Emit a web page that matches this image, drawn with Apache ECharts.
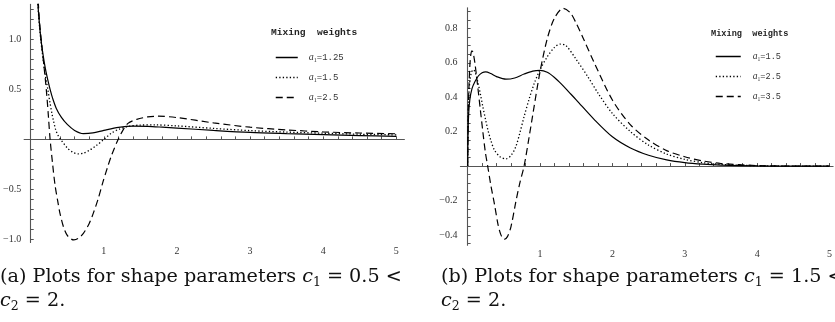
<!DOCTYPE html>
<html>
<head>
<meta charset="utf-8">
<script src="https://cdn.jsdelivr.net/npm/echarts@6/dist/echarts.min.js"></script>
<style>
html,body{margin:0;padding:0;background:#fff;}
#chart{width:835px;height:322px;}
</style>
</head>
<body>
<div id="chart"></div>
<script>
// ---------- DATA ----------
// Panel (a): c1 = 0.5 < c2 = 2
const leftNames = ['1.25', '1.5', '2.5'];
const leftSolid = [[0.085,1.6],[0.1,1.34],[0.12,1.15],[0.14,1.0],[0.17,0.84],[0.2,0.71],[0.235,0.59],[0.265,0.5],[0.3,0.41],[0.35,0.31],[0.42,0.22],[0.5,0.15],[0.6,0.09],[0.72,0.058],[0.85,0.065],[1.0,0.09],[1.2,0.12],[1.4,0.133],[1.6,0.13],[1.8,0.122],[2.0,0.113],[2.5,0.09],[3.0,0.07],[3.5,0.058],[4.0,0.048],[4.5,0.038],[5.0,0.03]];
const leftDotted = [[0.085,1.6],[0.1,1.33],[0.12,1.13],[0.14,0.98],[0.17,0.8],[0.2,0.64],[0.234,0.5],[0.26,0.38],[0.29,0.26],[0.31,0.19],[0.34,0.1],[0.37,0.045],[0.41,0.0],[0.5,-0.085],[0.58,-0.13],[0.65,-0.145],[0.72,-0.138],[0.8,-0.11],[0.9,-0.06],[1.0,0.0],[1.1,0.06],[1.2,0.1],[1.35,0.132],[1.5,0.143],[1.7,0.145],[2.0,0.135],[2.5,0.11],[3.0,0.088],[3.5,0.073],[4.0,0.062],[4.5,0.052],[5.0,0.045]];
const leftDashed = [[0.09,1.6],[0.105,1.35],[0.12,1.18],[0.15,0.95],[0.18,0.74],[0.2,0.6],[0.22,0.44],[0.24,0.25],[0.265,0.0],[0.3,-0.25],[0.333,-0.46],[0.37,-0.62],[0.4,-0.74],[0.45,-0.88],[0.5,-0.96],[0.55,-0.995],[0.59,-1.005],[0.65,-0.99],[0.72,-0.94],[0.8,-0.84],[0.855,-0.74],[0.92,-0.6],[0.99,-0.42],[1.05,-0.28],[1.105,-0.16],[1.195,0.0],[1.26,0.09],[1.33,0.16],[1.45,0.2],[1.6,0.225],[1.74,0.232],[2.0,0.218],[2.5,0.165],[3.0,0.122],[3.5,0.095],[4.0,0.075],[4.5,0.064],[5.0,0.056]];

// Panel (b): c1 = 1.5 < c2 = 2
const rightNames = ['1.5', '2.5', '3.5'];
const rightSolid = [[0,0],[0.006,0.2],[0.015,0.31],[0.03,0.385],[0.06,0.45],[0.1,0.49],[0.15,0.525],[0.2,0.543],[0.25,0.548],[0.32,0.538],[0.4,0.52],[0.53,0.505],[0.65,0.512],[0.78,0.535],[0.9,0.552],[1.0,0.556],[1.1,0.545],[1.2,0.515],[1.3,0.475],[1.4,0.43],[1.5,0.385],[1.75,0.27],[2.0,0.17],[2.25,0.105],[2.5,0.063],[2.75,0.036],[3.0,0.02],[3.25,0.011],[3.5,0.006],[4.0,0.001],[4.5,0.0],[5.0,0.0]];
const rightDotted = [[0,0],[0.006,0.25],[0.015,0.4],[0.03,0.49],[0.05,0.54],[0.076,0.56],[0.1,0.55],[0.14,0.49],[0.18,0.41],[0.21,0.345],[0.25,0.265],[0.28,0.21],[0.32,0.15],[0.37,0.093],[0.45,0.053],[0.53,0.042],[0.6,0.062],[0.665,0.112],[0.72,0.19],[0.78,0.287],[0.85,0.39],[0.92,0.48],[1.0,0.56],[1.1,0.635],[1.2,0.69],[1.28,0.709],[1.36,0.7],[1.5,0.62],[1.66,0.52],[1.8,0.425],[2.0,0.306],[2.25,0.2],[2.5,0.122],[2.75,0.07],[3.0,0.039],[3.25,0.02],[3.5,0.01],[4.0,0.002],[4.5,0.0],[5.0,0.0]];
const rightDashed = [[0,0],[0.008,0.3],[0.018,0.46],[0.03,0.58],[0.045,0.65],[0.06,0.67],[0.075,0.66],[0.1,0.6],[0.14,0.46],[0.175,0.33],[0.21,0.2],[0.245,0.08],[0.277,0.0],[0.32,-0.11],[0.37,-0.22],[0.42,-0.34],[0.46,-0.4],[0.505,-0.426],[0.55,-0.41],[0.6,-0.35],[0.665,-0.21],[0.72,-0.1],[0.78,0.0],[0.85,0.17],[0.92,0.35],[1.0,0.548],[1.1,0.74],[1.2,0.86],[1.32,0.917],[1.42,0.89],[1.5,0.83],[1.6,0.74],[1.75,0.6],[2.0,0.384],[2.25,0.24],[2.5,0.151],[2.75,0.09],[3.0,0.054],[3.25,0.03],[3.5,0.015],[4.0,0.003],[4.5,0.0],[5.0,0.0]];

// ---------- TICKS ----------
const leftXLabels = [1, 2, 3, 4, 5];
const leftXTicks = [0.2,0.4,0.6,0.8,1,1.2,1.4,1.6,1.8,2,2.2,2.4,2.6,2.8,3,3.2,3.4,3.6,3.8,4,4.2,4.4,4.6,4.8,5];
const leftYLabels = [-1.0, -0.5, 0.5, 1.0];
const leftYTicks = [-1.0,-0.9,-0.8,-0.7,-0.6,-0.5,-0.4,-0.3,-0.2,-0.1,0.1,0.2,0.3,0.4,0.5,0.6,0.7,0.8,0.9,1.0,1.1,1.2,1.3];
const rightXLabels = [1, 2, 3, 4, 5];
const rightXTicks = [0.2,0.4,0.6,0.8,1,1.2,1.4,1.6,1.8,2,2.2,2.4,2.6,2.8,3,3.2,3.4,3.6,3.8,4,4.2,4.4,4.6,4.8,5];
const rightYLabels = [-0.4, -0.2, 0.2, 0.4, 0.6, 0.8];
const rightYTicks = [-0.45,-0.4,-0.35,-0.3,-0.25,-0.2,-0.15,-0.1,-0.05,0.05,0.1,0.15,0.2,0.25,0.3,0.35,0.4,0.45,0.5,0.55,0.6,0.65,0.7,0.75,0.8,0.85,0.9];

// ---------- CHART ----------
const chart = echarts.init(document.getElementById('chart'), null, {renderer: 'canvas'});

const AXIS_COLOR = '#555';
const LABEL_COLOR = '#333';
const fmtNum = (v, d) => (v < 0 ? '\u2212' : '') + Math.abs(v).toFixed(d);

function xAxisDef(grid, min, max, labels, ticks) {
  return {
    type: 'value', gridIndex: grid, min: min, max: max,
    axisLine: {onZero: true, lineStyle: {color: AXIS_COLOR, width: 1.1}},
    axisTick: {inside: true, length: 3, customValues: ticks, lineStyle: {color: AXIS_COLOR}},
    axisLabel: {customValues: labels, margin: 4, color: LABEL_COLOR, fontFamily: 'Liberation Serif', fontSize: 10,
      formatter: v => String(Math.round(v))},
    splitLine: {show: false}
  };
}
function yAxisDef(grid, min, max, labels, ticks, dec) {
  return {
    type: 'value', gridIndex: grid, min: min, max: max,
    axisLine: {onZero: true, lineStyle: {color: AXIS_COLOR, width: 1.1}},
    axisTick: {inside: true, length: 3, customValues: ticks, lineStyle: {color: AXIS_COLOR}},
    axisLabel: {customValues: labels, margin: 3, color: LABEL_COLOR, fontFamily: 'Liberation Serif', fontSize: 10,
      formatter: v => fmtNum(v, dec)},
    splitLine: {show: false}
  };
}

const styles = [
  {type: 'solid', width: 1.2},
  {type: [1.3, 2.2], width: 1.3},
  {type: [7, 4], width: 1.2}
];

function mkSeries(prefix, names, datas, axisIdx) {
  return datas.map((d, i) => ({
    type: 'line', name: prefix + names[i],
    xAxisIndex: axisIdx, yAxisIndex: axisIdx,
    data: d, smooth: 0.3, symbol: 'none', showSymbol: false, clip: true,
    lineStyle: Object.assign({color: '#000'}, styles[i]),
    itemStyle: {color: '#000'},
    emphasis: {disabled: true}
  }));
}

const legendRich = (fs) => ({
  a: {fontFamily: 'Liberation Serif', fontStyle: 'italic', fontSize: fs + 1, color: '#333', verticalAlign: 'middle', lineHeight: 12},
  s: {fontFamily: 'Liberation Serif', fontSize: fs - 3, color: '#333', verticalAlign: 'bottom', lineHeight: 9},
  m: {fontFamily: 'Liberation Mono', fontSize: fs, color: '#333', verticalAlign: 'middle', lineHeight: 12}
});

function legendDef(prefix, names, left, top, w, gap, fs, pad) {
  return {
    orient: 'vertical', left: left, top: top,
    data: names.map(n => ({name: prefix + n})),
    itemWidth: w, itemHeight: 10, itemGap: gap,
    selectedMode: false,
    itemStyle: {opacity: 0, borderWidth: 0},
    lineStyle: {width: 1.5},
    textStyle: {padding: [0, 0, 0, pad], rich: legendRich(fs)},
    formatter: name => '{a|a}{s|1}{m|=' + name.slice(prefix.length) + '}'
  };
}

const capRich = {
  i: {fontFamily: 'DejaVu Serif', fontStyle: 'italic', fontSize: 19.2, fill: '#111', verticalAlign: 'middle', lineHeight: 24},
  s: {fontFamily: 'DejaVu Serif', fontSize: 12.5, fill: '#111', verticalAlign: 'bottom', lineHeight: 14},
  n: {fontFamily: 'DejaVu Serif', fontSize: 19.2, fill: '#111', verticalAlign: 'middle', lineHeight: 24}
};

function caption(x, y, txt) {
  return {type: 'text', left: x, top: y, silent: true,
    style: {text: txt, rich: capRich, fill: '#111'}};
}

const option = {
  backgroundColor: '#fff',
  animation: false,
  grid: [
    {left: 22.2, top: 4.4, width: 382.2, height: 238},
    {left: 460.4, top: 7.8, width: 377.7, height: 237.4}
  ],
  xAxis: [
    xAxisDef(0, -0.09, 5.11, leftXLabels, leftXTicks),
    xAxisDef(1, -0.1, 5.05, rightXLabels, rightXTicks)
  ],
  yAxis: [
    yAxisDef(0, -1.03, 1.35, leftYLabels, leftYTicks, 1),
    yAxisDef(1, -0.46, 0.92, rightYLabels, rightYTicks, 1)
  ],
  title: [
    {text: 'Mixing  weights', left: 271, top: 28,
      textStyle: {fontFamily: 'Liberation Mono', fontWeight: 'bold', fontSize: 9.6, color: '#222'}, padding: 0},
    {text: 'Mixing  weights', left: 711, top: 29,
      textStyle: {fontFamily: 'Liberation Mono', fontWeight: 'bold', fontSize: 8.6, color: '#222'}, padding: 0}
  ],
  legend: [
    legendDef('L:', leftNames, 270, 47.5, 22, 9, 9, 6),
    legendDef('R:', rightNames, 710, 46.5, 25, 9, 8.6, 7)
  ],
  series: [].concat(
    mkSeries('L:', leftNames, [leftSolid, leftDotted, leftDashed], 0),
    mkSeries('R:', rightNames, [rightSolid, rightDotted, rightDashed], 1)
  ),
  graphic: [
    caption(0, 268, '{n|(a) Plots for shape parameters }{i|c}{s|1}{n| = 0.5 <}'),
    caption(0, 292, '{i|c}{s|2}{n| = 2.}'),
    caption(441, 268, '{n|(b) Plots for shape parameters }{i|c}{s|1}{n| = 1.5 <}'),
    caption(441, 292, '{i|c}{s|2}{n| = 2.}')
  ]
};

chart.setOption(option);
</script>
</body>
</html>
